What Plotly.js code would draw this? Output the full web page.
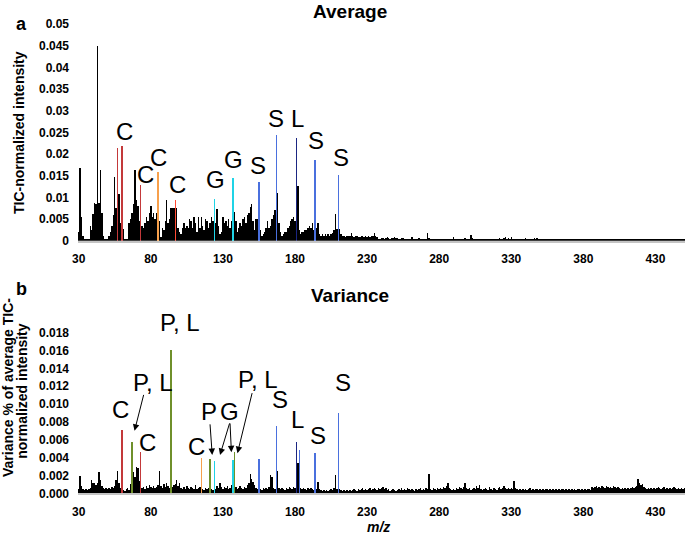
<!DOCTYPE html>
<html>
<head>
<meta charset="utf-8">
<script src="https://cdn.plot.ly/plotly-3.0.1.min.js"></script>
<style>html,body{margin:0;padding:0;background:#fff;}#chart{width:685px;height:536px;}</style>
</head>
<body>
<div id="chart"></div>
<script>
// ---- data: m/z 30..450, one value per nominal mass ----
const avgIntensity = [
0.0020,0.0167,0.0055,0.0010,0.0003,0.0003,0.0003,0.0005,0.0035,0.0025,
0.0062,0.0088,0.0085,0.0450,0.0088,0.0164,0.0065,0.0010,0.0005,0.0003,
0.0005,0.0010,0.0020,0.0035,0.0060,0.0148,0.0075,0.0215,0.0108,0.0040,
0.0218,0.0026,0.0005,0.0003,0.0005,0.0040,0.0050,0.0065,0.0085,0.0164,
0.0095,0.0080,0.0045,0.0129,0.0035,0.0030,0.0040,0.0055,0.0045,0.0065,
0.0080,0.0055,0.0065,0.0050,0.0065,0.0158,0.0045,0.0008,0.0030,0.0025,
0.0045,0.0095,0.0040,0.0050,0.0075,0.0075,0.0075,0.0095,0.0075,0.0030,
0.0020,0.0015,0.0030,0.0040,0.0030,0.0035,0.0030,0.0050,0.0045,0.0030,
0.0055,0.0040,0.0020,0.0055,0.0030,0.0055,0.0035,0.0025,0.0050,0.0045,
0.0030,0.0040,0.0055,0.0045,0.0097,0.0040,0.0073,0.0035,0.0015,0.0020,
0.0055,0.0040,0.0045,0.0035,0.0050,0.0030,0.0045,0.0145,0.0067,0.0045,
0.0020,0.0030,0.0040,0.0035,0.0050,0.0055,0.0040,0.0060,0.0065,0.0078,
0.0085,0.0045,0.0025,0.0050,0.0050,0.0135,0.0025,0.0010,0.0015,0.0020,
0.0030,0.0045,0.0030,0.0035,0.0050,0.0060,0.0070,0.0244,0.0110,0.0040,
0.0020,0.0010,0.0015,0.0020,0.0020,0.0030,0.0035,0.0045,0.0050,0.0055,
0.0045,0.0237,0.0127,0.0025,0.0015,0.0020,0.0020,0.0025,0.0025,0.0030,
0.0035,0.0030,0.0040,0.0025,0.0186,0.0030,0.0041,0.0015,0.0012,0.0015,
0.0010,0.0015,0.0012,0.0015,0.0012,0.0015,0.0018,0.0025,0.0062,0.0028,
0.0151,0.0026,0.0015,0.0010,0.0012,0.0008,0.0010,0.0012,0.0010,0.0017,
0.0010,0.0008,0.0012,0.0010,0.0009,0.0008,0.0010,0.0011,0.0009,0.0010,
0.0008,0.0010,0.0009,0.0012,0.0010,0.0017,0.0011,0.0008,0.0005,0.0003,
0.0006,0.0007,0.0005,0.0007,0.0008,0.0006,0.0005,0.0007,0.0006,0.0008,
0.0006,0.0007,0.0005,0.0004,0.0006,0.0007,0.0005,0.0004,0.0003,0.0003,
0.0005,0.0008,0.0004,0.0005,0.0003,0.0005,0.0006,0.0004,0.0005,0.0003,
0.0004,0.0005,0.0017,0.0006,0.0004,0.0003,0.0003,0.0003,0.0003,0.0003,
0.0003,0.0003,0.0003,0.0004,0.0005,0.0004,0.0005,0.0003,0.0005,0.0004,
0.0008,0.0004,0.0003,0.0005,0.0004,0.0003,0.0005,0.0004,0.0006,0.0005,
0.0004,0.0005,0.0014,0.0006,0.0003,0.0003,0.0003,0.0004,0.0003,0.0003,
0.0003,0.0004,0.0005,0.0003,0.0004,0.0005,0.0004,0.0003,0.0003,0.0003,
0.0003,0.0004,0.0006,0.0005,0.0004,0.0006,0.0008,0.0005,0.0007,0.0004,
0.0008,0.0005,0.0003,0.0003,0.0003,0.0003,0.0004,0.0003,0.0005,0.0004,
0.0006,0.0003,0.0003,0.0003,0.0003,0.0005,0.0007,0.0004,0.0006,0.0003,
0.0003,0.0003,0.0003,0.0003,0.0003,0.0004,0.0003,0.0004,0.0003,0.0003,
0.0003,0.0003,0.0003,0.0003,0.0003,0.0003,0.0003,0.0003,0.0003,0.0003,
0.0003,0.0003,0.0003,0.0005,0.0003,0.0003,0.0003,0.0003,0.0003,0.0003,
0.0003,0.0003,0.0003,0.0003,0.0003,0.0003,0.0003,0.0003,0.0003,0.0003,
0.0003,0.0003,0.0003,0.0003,0.0003,0.0003,0.0003,0.0003,0.0003,0.0003,
0.0003,0.0003,0.0003,0.0003,0.0003,0.0003,0.0003,0.0003,0.0003,0.0003,
0.0003,0.0003,0.0003,0.0003,0.0003,0.0003,0.0003,0.0003,0.0003,0.0003,
0.0003,0.0003,0.0003,0.0003,0.0003,0.0003,0.0003,0.0003,0.0003,0.0003,
0.0003,0.0003,0.0003,0.0003,0.0003,0.0003,0.0003,0.0003,0.0003,0.0003,
0.0003,0.0003,0.0003,0.0003,0.0003,0.0003,0.0003,0.0003,0.0003,0.0003,
0.0003
];

const varPercent = [
0.0005,0.0019,0.0008,0.0005,0.0004,0.0005,0.0004,0.0005,0.0006,0.0015,
0.0011,0.0011,0.0009,0.0012,0.0024,0.0015,0.0008,0.0006,0.0005,0.0006,
0.0005,0.0006,0.0005,0.0007,0.0006,0.0008,0.0015,0.0025,0.0012,0.0006,
0.0071,0.0004,0.0003,0.0005,0.0006,0.0004,0.0010,0.0058,0.0024,0.0018,
0.0030,0.0028,0.0014,0.0046,0.0006,0.0007,0.0005,0.0008,0.0006,0.0009,
0.0007,0.0006,0.0008,0.0006,0.0007,0.0009,0.0025,0.0008,0.0006,0.0010,
0.0007,0.0011,0.0008,0.0006,0.0161,0.0007,0.0009,0.0010,0.0015,0.0008,
0.0012,0.0006,0.0005,0.0007,0.0005,0.0008,0.0006,0.0005,0.0007,0.0006,
0.0005,0.0009,0.0005,0.0006,0.0007,0.0040,0.0005,0.0004,0.0006,0.0005,
0.0006,0.0039,0.0005,0.0004,0.0036,0.0005,0.0008,0.0006,0.0012,0.0007,
0.0005,0.0007,0.0006,0.0008,0.0005,0.0006,0.0009,0.0037,0.0046,0.0007,
0.0005,0.0006,0.0008,0.0006,0.0005,0.0007,0.0006,0.0009,0.0012,0.0022,
0.0016,0.0013,0.0009,0.0006,0.0005,0.0039,0.0005,0.0004,0.0006,0.0005,
0.0006,0.0005,0.0007,0.0020,0.0018,0.0006,0.0005,0.0076,0.0025,0.0006,
0.0005,0.0006,0.0005,0.0004,0.0006,0.0005,0.0007,0.0006,0.0005,0.0007,
0.0006,0.0058,0.0034,0.0049,0.0006,0.0005,0.0006,0.0005,0.0004,0.0006,
0.0005,0.0006,0.0005,0.0004,0.0045,0.0005,0.0013,0.0005,0.0004,0.0003,
0.0004,0.0003,0.0004,0.0003,0.0004,0.0005,0.0004,0.0006,0.0020,0.0005,
0.0090,0.0005,0.0004,0.0003,0.0004,0.0003,0.0004,0.0003,0.0004,0.0003,
0.0004,0.0005,0.0004,0.0003,0.0005,0.0004,0.0005,0.0006,0.0004,0.0005,
0.0004,0.0005,0.0006,0.0004,0.0005,0.0006,0.0005,0.0004,0.0006,0.0005,
0.0006,0.0007,0.0005,0.0006,0.0004,0.0005,0.0003,0.0004,0.0005,0.0004,
0.0003,0.0004,0.0005,0.0004,0.0006,0.0004,0.0005,0.0004,0.0006,0.0005,
0.0004,0.0005,0.0004,0.0003,0.0005,0.0004,0.0005,0.0006,0.0004,0.0005,
0.0004,0.0006,0.0005,0.0022,0.0005,0.0004,0.0006,0.0005,0.0004,0.0006,
0.0005,0.0006,0.0005,0.0007,0.0006,0.0008,0.0011,0.0006,0.0005,0.0004,
0.0005,0.0004,0.0006,0.0005,0.0007,0.0006,0.0005,0.0007,0.0012,0.0006,
0.0005,0.0006,0.0004,0.0005,0.0006,0.0005,0.0008,0.0006,0.0009,0.0005,
0.0004,0.0005,0.0006,0.0005,0.0004,0.0007,0.0005,0.0004,0.0006,0.0005,
0.0004,0.0006,0.0007,0.0005,0.0006,0.0008,0.0006,0.0005,0.0006,0.0005,
0.0006,0.0005,0.0014,0.0006,0.0005,0.0004,0.0005,0.0004,0.0005,0.0004,
0.0005,0.0004,0.0005,0.0006,0.0004,0.0005,0.0004,0.0005,0.0005,0.0004,
0.0005,0.0004,0.0005,0.0004,0.0005,0.0005,0.0004,0.0005,0.0004,0.0005,
0.0004,0.0005,0.0004,0.0005,0.0004,0.0005,0.0005,0.0004,0.0005,0.0004,
0.0005,0.0004,0.0005,0.0004,0.0005,0.0004,0.0005,0.0005,0.0004,0.0005,
0.0004,0.0005,0.0004,0.0005,0.0005,0.0004,0.0007,0.0006,0.0007,0.0008,
0.0006,0.0007,0.0006,0.0008,0.0007,0.0006,0.0008,0.0007,0.0006,0.0007,
0.0006,0.0008,0.0007,0.0006,0.0007,0.0006,0.0005,0.0006,0.0005,0.0006,
0.0005,0.0006,0.0005,0.0006,0.0007,0.0006,0.0007,0.0008,0.0016,0.0011,
0.0009,0.0010,0.0007,0.0006,0.0005,0.0006,0.0005,0.0006,0.0005,0.0006,
0.0005,0.0006,0.0007,0.0006,0.0005,0.0006,0.0007,0.0005,0.0006,0.0005,
0.0006,0.0005,0.0006,0.0007,0.0006,0.0005,0.0006,0.0005,0.0006,0.0005,
0.0006
];

const mzStart = 30;
const tickMz = [30, 80, 130, 180, 230, 280, 330, 380, 430];
const tickLabels = ['30', '80', '130', '180', '230', '280', '330', '380', '430'];
const avgTickVals = [0, 0.005, 0.01, 0.015, 0.02, 0.025, 0.03, 0.035, 0.04, 0.045, 0.05];
const avgTickText = ['0', '0.005', '0.01', '0.015', '0.02', '0.025', '0.03', '0.035', '0.04', '0.045', '0.05'];
const varTickVals = [0, 0.002, 0.004, 0.006, 0.008, 0.010, 0.012, 0.014, 0.016, 0.018];
const varTickText = ['0.000', '0.002', '0.004', '0.006', '0.008', '0.010', '0.012', '0.014', '0.016', '0.018'];

// assigned peaks (m/z and compound class)
const avgMarkedMz    = [57, 60, 73, 85, 97, 124, 137, 155, 167, 181, 194, 210];
const avgMarkedClass = ['C', 'C', 'C', 'C2', 'C3', 'G', 'G', 'S', 'S', 'L', 'S', 'S'];
const varMarkedMz    = [60, 67, 73, 94, 115, 121, 124, 137, 138, 155, 167, 181, 183, 194, 210];
const varMarkedClass = ['C', 'PL', 'C', 'PL', 'C2', 'PL', 'G', 'G', 'PL', 'S', 'S', 'L', 'S', 'S', 'S'];

// ---- styling ----
const classColor = {C: '#c3393a', C2: '#f7a04c', C3: '#ff4a33', G: '#1fd3e6', S: '#4a70de', L: '#1b2682', PL: '#6f902b'};
const FONT = 'Liberation Sans, Arial, Helvetica, sans-serif';

const mz = avgIntensity.map((_, i) => mzStart + i);
function colorsFor(markedMz, markedClass) {
  const c = mz.map(() => '#000000');
  markedMz.forEach((m, k) => { c[m - mzStart] = classColor[markedClass[k]]; });
  return c;
}

const traces = [
  {type: 'bar', x: mz, y: avgIntensity, xaxis: 'x', yaxis: 'y',
   marker: {color: colorsFor(avgMarkedMz, avgMarkedClass), line: {width: 0}}, hoverinfo: 'x+y'},
  {type: 'bar', x: mz, y: varPercent, xaxis: 'x2', yaxis: 'y2',
   marker: {color: colorsFor(varMarkedMz, varMarkedClass), line: {width: 0}}, hoverinfo: 'x+y'}
];

const W = 685, H = 536;
const px = v => v / W, py = v => 1 - v / H;
const xDomain = [78 / W, 1];

const baseX = {
  domain: xDomain, range: [29.5, 450.5], tickmode: 'array', tickvals: tickMz, ticktext: tickLabels,
  showgrid: false, zeroline: false, showline: true, linecolor: '#c4c4c4', linewidth: 2,
  ticks: '', ticklabelstandoff: 6, tickfont: {family: FONT, size: 12, color: '#000', weight: 'bold'}
};
const baseY = {
  showgrid: false, zeroline: false, showline: false, ticks: '', tickmode: 'array',
  ticklabelstandoff: 8, tickfont: {family: FONT, size: 12, color: '#000', weight: 'bold'}
};

const label = (xr, yr, x, y, t) => ({xref: xr, yref: yr, x: x, y: y, text: t, showarrow: false,
  xanchor: 'center', yanchor: 'middle', font: {family: FONT, size: 24, color: '#000'}});
const arrow = (x, y, ax, ay) => ({xref: 'x2', yref: 'y2', axref: 'x2', ayref: 'y2', x: x, y: y, ax: ax, ay: ay,
  text: '', showarrow: true, arrowhead: 2, arrowsize: 1.3, arrowwidth: 1, arrowcolor: '#000', standoff: 0, startstandoff: 0});
const txt = (x, y, t, size, extra) => Object.assign({xref: 'paper', yref: 'paper', x: px(x), y: py(y), text: t,
  showarrow: false, xanchor: 'center', yanchor: 'middle',
  font: {family: FONT, size: size, color: '#000', weight: 'bold'}}, extra || {});

const annotations = [
  txt(350, 11, 'Average', 19),
  txt(350, 295, 'Variance', 19),
  txt(21.5, 24, 'a', 18),
  txt(21, 289, 'b', 18),
  txt(19, 133, 'TIC-normalized intensity', 14, {textangle: -90}),
  txt(7.5, 387.5, 'Variance % of average TIC-', 14, {textangle: -90}),
  txt(22, 390.8, 'normalized intensity', 14, {textangle: -90}),
  txt(378, 527, '<i>m/z</i>', 14),
  // panel a assignments
  label('x', 'y', 61.9, 0.0251, 'C'),
  label('x', 'y', 76.0, 0.0152, 'C'),
  label('x', 'y', 85.0, 0.0191, 'C'),
  label('x', 'y', 98.5, 0.0130, 'C'),
  label('x', 'y', 125.1, 0.0142, 'G'),
  label('x', 'y', 137.2, 0.0187, 'G'),
  label('x', 'y', 154.0, 0.0174, 'S'),
  label('x', 'y', 167.0, 0.0281, 'S'),
  label('x', 'y', 182.0, 0.0281, 'L'),
  label('x', 'y', 194.4, 0.0231, 'S'),
  label('x', 'y', 211.8, 0.0192, 'S'),
  // panel b assignments
  label('x2', 'y2', 100.2, 0.0191, 'P, L'),
  label('x2', 'y2', 81.7, 0.01245, 'P, L'),
  label('x2', 'y2', 59.3, 0.0094, 'C'),
  label('x2', 'y2', 77.7, 0.0057, 'C'),
  label('x2', 'y2', 111.8, 0.0052, 'C'),
  label('x2', 'y2', 120.4, 0.0092, 'P'),
  label('x2', 'y2', 134.7, 0.0092, 'G'),
  label('x2', 'y2', 154.2, 0.01276, 'P, L'),
  label('x2', 'y2', 169.6, 0.0105, 'S'),
  label('x2', 'y2', 181.7, 0.0083, 'L'),
  label('x2', 'y2', 196.3, 0.00645, 'S'),
  label('x2', 'y2', 212.95, 0.0124, 'S'),
  arrow(68.7, 0.0070, 75.3, 0.0112),
  arrow(122.6, 0.0043, 121.0, 0.0079),
  arrow(128.0, 0.0043, 134.9, 0.0080),
  arrow(135.9, 0.0046, 134.9, 0.0080),
  arrow(140.1, 0.0045, 150.5, 0.0114)
];

const layout = {
  width: W, height: H, margin: {l: 0, r: 0, t: 0, b: 0},
  paper_bgcolor: '#fff', plot_bgcolor: '#fff', showlegend: false, bargap: 0,
  font: {family: FONT, color: '#000'},
  xaxis: Object.assign({}, baseX, {anchor: 'y'}),
  yaxis: Object.assign({}, baseY, {anchor: 'x', domain: [py(240.7), py(24)], range: [0, 0.05],
    tickvals: avgTickVals, ticktext: avgTickText}),
  xaxis2: Object.assign({}, baseX, {anchor: 'y2'}),
  yaxis2: Object.assign({}, baseY, {anchor: 'x2', domain: [py(493.3), py(314.9)], range: [0, 0.02],
    tickvals: varTickVals, ticktext: varTickText}),
  annotations: annotations
};

Plotly.newPlot('chart', traces, layout, {displayModeBar: false, staticPlot: true});
</script>
</body>
</html>
